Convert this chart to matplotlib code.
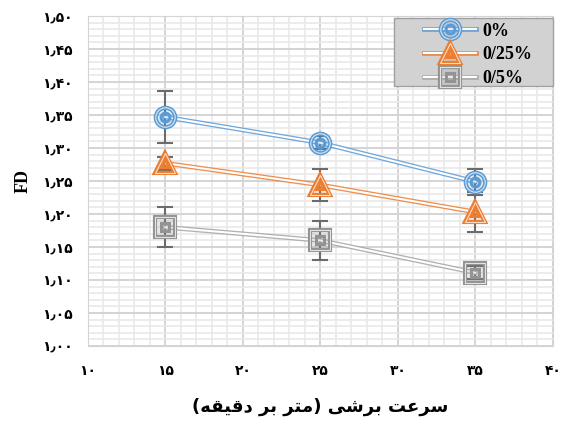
import numpy as np
import matplotlib.pyplot as plt
from matplotlib.lines import Line2D
from matplotlib.patches import Rectangle
from matplotlib.legend_handler import HandlerTuple
from matplotlib.ticker import MultipleLocator, FixedLocator

# data
speed = [15, 25, 35]
series_names = ["0%", "0/25%", "0/5%"]
fd_0 = [1.347, 1.308, 1.249]
fd_025 = [1.277, 1.244, 1.203]
fd_05 = [1.180, 1.160, 1.111]
err_0 = [0.039, 0.01, 0.02]
err_025 = [0.01, 0.024, 0.03]
err_05 = [0.03, 0.03, 0.01]

colors = ["#5B9BD5", "#ED7D31", "#A5A5A5"]
edge_colors = ["#5B9BD5", "#ED7D31", "#939393"]
markers = ["o", "^", "s"]

persian = str.maketrans("0123456789.", "۰۱۲۳۴۵۶۷۸۹٫")
x_ticks = [10, 15, 20, 25, 30, 35, 40]
y_ticks = [1.00, 1.05, 1.10, 1.15, 1.20, 1.25, 1.30, 1.35, 1.40, 1.45, 1.50]

# x label, pre-shaped glyphs in visual order (matplotlib has no bidi)
xlabel = ("(" + "\uFEEA\uFED8\uFEF4\uFED7\uFEA9" + " " + "\uFEAE\uFE91" + " "
          + "\uFEAE\uFE98\uFEE3" + ")" + " " + "\uFEF0\uFEB7\uFEAE\uFE91" + " "
          + "\uFE96\uFECB\uFEAE\uFEB3")

fig = plt.figure(figsize=(5.63, 4.23), dpi=100)
ax = fig.add_axes([0.156, 0.182, 0.826, 0.780])

def rgba(c, a):
    c = c.lstrip("#")
    return (int(c[0:2], 16) / 255, int(c[2:4], 16) / 255, int(c[4:6], 16) / 255, a)

def marker_layers(col, mk):
    ms = 14
    return [dict(marker=mk, ms=ms, mfc=rgba(col, 0.2), mec=col, mew=3.0),
            dict(marker=mk, ms=ms, mfc="none", mec=(1, 1, 1, 0.75), mew=0.8),
            dict(marker=mk, ms=ms * 0.45, mfc="none", mec=col, mew=2.2)]

handles = []
for vals, errs, col, ecol, mk in zip([fd_0, fd_025, fd_05], [err_0, err_025, err_05],
                                     colors, edge_colors, markers):
    ax.errorbar(speed, vals, yerr=errs, fmt="none", ecolor="#6b6b6b", elinewidth=1.5,
                capsize=6, capthick=1.5, zorder=3)
    ax.plot(speed, vals, color=col, lw=3.4, zorder=4, alpha=0.85)
    ax.plot(speed, vals, color="white", lw=1.5, zorder=5)
    h = [Line2D([], [], color=col, lw=3.4, alpha=0.85),
         Line2D([], [], color="white", lw=1.5)]
    for i, kw in enumerate(marker_layers(ecol, mk)):
        ax.plot(speed, vals, ls="none", zorder=6 + i, **kw)
        h.append(Line2D([], [], ls="none", **kw))
    handles.append(tuple(h))

ax.set_xlim(10, 40)
ax.set_ylim(1.0, 1.5)
ax.xaxis.set_major_locator(FixedLocator(x_ticks))
ax.yaxis.set_major_locator(FixedLocator(y_ticks))
ax.xaxis.set_minor_locator(MultipleLocator(1))
ax.yaxis.set_minor_locator(MultipleLocator(0.01))
ax.set_xticklabels([str(t).translate(persian) for t in x_ticks])
ax.set_yticklabels([("%.2f" % t).translate(persian) for t in y_ticks])
ax.tick_params(which="both", length=0)
ax.tick_params(axis="x", pad=13)
ax.tick_params(axis="y", pad=11)
for lab in ax.get_xticklabels() + ax.get_yticklabels():
    lab.set_fontweight("bold")
    lab.set_fontsize(10)
    lab.set_family("DejaVu Sans")

ax.grid(which="major", color="#d4d4d4", lw=1.4)
ax.grid(which="minor", color="#e9e9e9", lw=1.2)
ax.set_axisbelow(True)
for s in ax.spines.values():
    s.set_color("#d4d4d4")

ax.set_xlabel(xlabel, fontsize=13, fontweight="bold", family="DejaVu Sans", labelpad=14)
ax.set_ylabel("FD", fontsize=13, fontweight="bold", family="Liberation Serif", labelpad=7)

# legend box (Excel-like, wide left padding)
ax.add_patch(Rectangle((394 / 563, 1 - 86 / 423), 159 / 563, 68 / 423,
                       transform=fig.transFigure, facecolor="#d2d2d2",
                       edgecolor="#a0a0a0", lw=1.0, zorder=9, clip_on=False))
leg = ax.legend(handles, series_names, handler_map={tuple: HandlerTuple(ndivide=1)},
                loc="upper left", bbox_to_anchor=(421 / 563, 1 - 20 / 423),
                bbox_transform=fig.transFigure, borderaxespad=0,
                prop={"family": "Liberation Serif", "weight": "bold", "size": 13},
                handlelength=2.9, handletextpad=0.35, labelspacing=0.37,
                frameon=False, borderpad=0.15)
leg.set_zorder(10)

fig.savefig("out.png", dpi=100)
